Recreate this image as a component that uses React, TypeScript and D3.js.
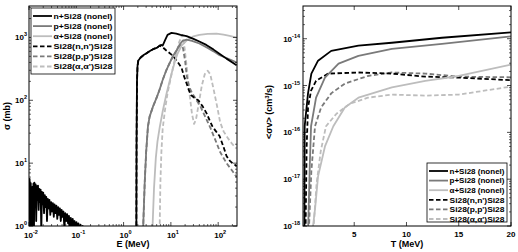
import React from 'react';
import * as d3 from 'd3';

const W = 518, H = 252;

// ---------- left panel data (E in MeV, sigma in mb) ----------
const leftXTicks = [0.01, 0.1, 1, 10, 100];
const leftXTickExp = ['-2', '-1', '0', '1', '2'];
const leftYTicks = [1, 10, 100, 1000];
const leftYTickExp = ['0', '1', '2', '3'];

const nNonel: [number, number][] = [
  [0.0100, 3.2], [0.0103, 5.6], [0.0106, 0.4], [0.0109, 4.8], [0.0112, 1.5], [0.0115, 0.5], [0.0118, 4.2], [0.0121, 2.0],
  [0.0124, 4.7], [0.0127, 0.6], [0.0130, 4.9], [0.0134, 3.1], [0.0138, 4.6], [0.0142, 1.2], [0.0146, 4.3], [0.0150, 2.6],
  [0.0155, 4.4], [0.0160, 1.8], [0.0165, 3.9], [0.0170, 2.4], [0.0176, 3.8], [0.0182, 0.8], [0.0188, 3.5], [0.0194, 2.2],
  [0.0200, 3.4], [0.0208, 1.6], [0.0216, 3.1], [0.0224, 2.0], [0.0232, 2.9], [0.0240, 1.2], [0.0250, 2.7], [0.0260, 1.9],
  [0.0270, 2.6], [0.0282, 1.5], [0.0294, 2.4], [0.0306, 1.7], [0.0320, 2.3], [0.0334, 1.4], [0.0348, 2.2], [0.0364, 1.6],
  [0.0380, 2.1], [0.0396, 1.3], [0.0414, 2.0], [0.0432, 1.5], [0.0450, 1.9], [0.0470, 1.2], [0.0490, 1.8], [0.0512, 1.4],
  [0.0535, 1.7], [0.0560, 0.9], [0.0585, 1.6], [0.0610, 1.2], [0.0640, 1.55], [0.0670, 1.1], [0.0700, 1.45], [0.0730, 0.8],
  [0.0765, 1.35], [0.0800, 1.0], [0.0840, 1.3], [0.0880, 0.9], [0.0920, 1.2], [0.0965, 0.85], [0.1010, 1.15], [0.1060, 0.9],
  [0.1110, 1.1], [0.1170, 0.8], [0.1230, 1.05], [0.1300, 0.85], [0.1370, 1.0], [0.1450, 0.7], [0.1500, 0.5],
  [0.16, 0.1], [1.85, 0.1], [1.88, 20], [1.92, 200], [1.97, 350], [2.05, 430], [2.3, 480], [2.7, 530], [3.06, 560],
  [3.6, 610], [4.2, 650], [5.0, 680], [5.8, 740], [6.3, 760], [6.7, 740], [7.5, 900], [8.5, 1100], [10.3, 1180],
  [13, 1150], [16, 1100], [21.5, 1050], [30, 950], [40, 860], [56, 760], [80, 640], [110, 540], [150, 460], [200, 400], [245, 360],
];
const pNonel: [number, number][] = [
  [2.5, 0.3], [2.6, 1], [2.8, 5], [3.0, 15], [3.27, 38], [3.55, 55], [4.2, 80], [5.0, 110], [5.8, 150], [6.7, 210],
  [8, 300], [9.4, 390], [11, 500], [13.2, 620], [15.5, 780], [17.7, 880], [21.5, 920], [28, 880], [40, 800], [60, 680],
  [80, 600], [107, 520], [150, 470], [200, 430], [245, 400],
];
const aNonel: [number, number][] = [
  [4.0, 0.3], [4.1, 1], [4.4, 4], [4.8, 12], [5.2, 22], [5.8, 37], [6.8, 70], [8.1, 128], [10.3, 265], [12, 400],
  [13.8, 550], [17, 750], [21.5, 890], [30, 1040], [40, 1100], [60, 1140], [92, 1150], [130, 1110], [175, 1060], [245, 990],
];
const nInel: [number, number][] = [
  [1.85, 0.1], [1.88, 20], [1.92, 200], [1.97, 350], [2.05, 430], [2.3, 480], [2.7, 530], [3.06, 560], [3.6, 610],
  [4.2, 650], [5.0, 680], [5.8, 740], [6.7, 700], [8, 620], [10.9, 515], [13.5, 420], [16.8, 330], [19, 240], [21.5, 185],
  [24, 145], [27, 120], [32, 108], [38, 100], [47, 80], [57, 62], [66, 48], [76, 38], [90, 32], [107, 27], [130, 18],
  [150, 13], [175, 11], [200, 10], [245, 9],
];
const pInel: [number, number][] = [
  [2.5, 0.3], [2.6, 1], [2.8, 5], [3.0, 15], [3.27, 38], [3.55, 55], [4.2, 80], [5.0, 110], [5.8, 150], [6.7, 210],
  [8, 300], [9.4, 390], [11, 500], [13.2, 620], [15, 720], [16.5, 760], [18, 680], [20, 420], [21.5, 250], [24, 170],
  [28, 130], [35, 100], [42, 80], [55, 52], [70, 35], [90, 22], [110, 15], [150, 10], [200, 7.5], [245, 6],
];
const aInel: [number, number][] = [
  [5.6, 0.3], [5.8, 1], [6.0, 5], [6.3, 15], [6.7, 35], [7.5, 70], [8.5, 130], [10, 230], [11.5, 380], [13, 560],
  [15, 850], [17.4, 1100], [19, 800], [22, 300], [25, 120], [28, 60], [31, 42], [34, 50], [38, 80], [45, 170],
  [52, 260], [60, 295], [68, 260], [80, 150], [95, 80], [110, 45], [130, 32], [160, 25], [200, 20], [245, 17],
];

// ---------- right panel data (T in MeV, <sigma v> in cm^3/s) ----------
const rightXTicks = [5, 10, 15, 20];
const rightYTicks = [1e-18, 1e-17, 1e-16, 1e-15, 1e-14];
const rightYTickExp = ['-18', '-17', '-16', '-15', '-14'];

const nRate: [number, number][] = [
  [0.2, 1e-19], [0.24, 1e-18], [0.26, 1.35e-16], [0.58, 6.8e-16], [0.9, 1.8e-15], [1.54, 3.4e-15], [2.8, 5.5e-15],
  [5.4, 7.1e-15], [8.6, 8.2e-15], [13.4, 1.05e-14], [20, 1.37e-14],
];
const pRate: [number, number][] = [
  [0.5, 1e-19], [0.6, 1e-18], [0.75, 2e-17], [0.87, 1.35e-16], [1.35, 5.5e-16], [2.2, 1.48e-15], [3.5, 2.95e-15],
  [5.4, 4.3e-15], [8.6, 6.1e-15], [13.4, 7.8e-15], [20, 1.12e-14],
];
const aRate: [number, number][] = [
  [1.0, 1e-19], [1.06, 1e-18], [1.25, 2.3e-18], [1.54, 1.15e-17], [2.2, 5e-17], [3.0, 1.35e-16], [4.1, 3.4e-16],
  [5.4, 5.5e-16], [8.6, 9.1e-16], [11.8, 1.26e-15], [15, 1.6e-15], [20, 2.8e-15],
];
const nInelRate: [number, number][] = [
  [0.3, 1e-19], [0.35, 1e-18], [0.45, 5e-17], [0.58, 3.4e-16], [0.87, 7.8e-16], [1.35, 1.26e-15], [2.5, 1.8e-15],
  [5.4, 1.9e-15], [8.6, 1.8e-15], [11.8, 1.55e-15], [15, 1.48e-15], [20, 1.3e-15],
];
const pInelRate: [number, number][] = [
  [0.6, 1e-19], [0.68, 1e-18], [0.9, 1.5e-17], [1.25, 1.35e-16], [1.83, 3.4e-16], [2.8, 6.8e-16], [4.1, 1.1e-15],
  [6.3, 1.6e-15], [8.6, 1.9e-15], [11.8, 1.8e-15], [15, 1.55e-15], [20, 1.5e-15],
];
const aInelRate: [number, number][] = [
  [1.05, 1e-19], [1.12, 1e-18], [1.4, 8e-18], [1.8, 4e-17], [2.3, 1.35e-16], [3.3, 2.5e-16], [4.6, 4.1e-16],
  [6.3, 5.5e-16], [8.6, 6.4e-16], [11.8, 6.1e-16], [15, 6.4e-16], [20, 9.5e-16],
];

const legendLabels = [
  'n+Si28 (nonel)', 'p+Si28 (nonel)', '\u03b1+Si28 (nonel)',
  "Si28(n,n')Si28", "Si28(p,p')Si28", "Si28(\u03b1,\u03b1')Si28",
];
const colors = ['#000000', '#7a7a7a', '#bdbdbd', '#000000', '#7a7a7a', '#bdbdbd'];
const dashes = ['', '', '', '4.5,2.5', '4.5,2.5', '4.5,2.5'];

const leftSeries = [nNonel, pNonel, aNonel, nInel, pInel, aInel];
const rightSeries = [nRate, pRate, aRate, nInelRate, pInelRate, aInelRate];

const FONT = 'Liberation Sans, Arial, Helvetica, sans-serif';

function minorLogTicks(lo: number, hi: number) {
  const out: number[] = [];
  for (let k = Math.floor(Math.log10(lo)); k <= Math.ceil(Math.log10(hi)); k++) {
    for (let m = 2; m <= 9; m++) {
      const v = m * Math.pow(10, k);
      if (v > lo && v < hi) out.push(v);
    }
  }
  return out;
}

function Pow({ x, y, exp, anchor }: { x: number; y: number; exp: string; anchor: string }) {
  return (
    <text x={x} y={y} textAnchor={anchor} fontSize={8} fontWeight="bold" fontFamily={FONT}>
      10<tspan dy={-4} fontSize={5.5}>{exp}</tspan>
    </text>
  );
}

function Legend({ x, y, w, h, step }: { x: number; y: number; w: number; h: number; step: number }) {
  return (
    <g>
      <rect x={x} y={y} width={w} height={h} fill="#fff" stroke="#000" strokeWidth={0.8} />
      {legendLabels.map((lab, i) => {
        const cy = y + 8 + i * step;
        return (
          <g key={i}>
            <line x1={x + 2} x2={x + 21} y1={cy} y2={cy} stroke={colors[i]} strokeWidth={1.8}
              strokeDasharray={dashes[i] || undefined} />
            <text x={x + 22.5} y={cy + 2.8} fontSize={7.6} fontWeight="bold" fontFamily={FONT}
              textLength={w - 25} lengthAdjust="spacingAndGlyphs">{lab}</text>
          </g>
        );
      })}
    </g>
  );
}

export default function App() {
  // left panel geometry
  const L = { l: 29, r: 237, t: 6, b: 226 };
  const lx = d3.scaleLog().domain([0.01, 250]).range([L.l, L.r]);
  const ly = d3.scaleLog().domain([1, 3162]).range([L.b, L.t]);
  const lline = d3.line<[number, number]>().x(d => lx(d[0])).y(d => ly(d[1]));

  // right panel geometry
  const R = { l: 303, r: 511, t: 6, b: 226 };
  const rx = d3.scaleLinear().domain([0.1, 20]).range([R.l, R.r]);
  const ry = d3.scaleLog().domain([1e-18, 5e-14]).range([R.b, R.t]);
  const rline = d3.line<[number, number]>().x(d => rx(d[0])).y(d => ry(d[1]));

  const lxMinor = minorLogTicks(0.01, 250);
  const lyMinor = minorLogTicks(1, 3162);
  const ryMinor = minorLogTicks(1e-18, 5e-14);

  const order = [5, 4, 3, 2, 1, 0];

  return (
    <svg width={W} height={H} style={{ position: 'absolute', left: 0, top: 0, background: '#fff' }}>
      <defs>
        <clipPath id="clipL"><rect x={L.l} y={L.t} width={L.r - L.l} height={L.b - L.t} /></clipPath>
        <clipPath id="clipR"><rect x={R.l} y={R.t} width={R.r - R.l} height={R.b - R.t} /></clipPath>
      </defs>

      {/* ---------- Left panel ---------- */}
      <g clipPath="url(#clipL)">
        {order.map(i => (
          <path key={i} d={lline(leftSeries[i]) || ''} fill="none" stroke={colors[i]} strokeWidth={1.8}
            strokeDasharray={dashes[i] || undefined} strokeLinejoin="round" />
        ))}
      </g>
      <rect x={L.l} y={L.t} width={L.r - L.l} height={L.b - L.t} fill="none" stroke="#000" strokeWidth={1} />
      {leftXTicks.map(v => (
        <g key={'lxt' + v}>
          <line x1={lx(v)} x2={lx(v)} y1={L.b} y2={L.b - 4} stroke="#000" strokeWidth={0.7} />
          <line x1={lx(v)} x2={lx(v)} y1={L.t} y2={L.t + 4} stroke="#000" strokeWidth={0.7} />
        </g>
      ))}
      {lxMinor.map(v => (
        <g key={'lxm' + v}>
          <line x1={lx(v)} x2={lx(v)} y1={L.b} y2={L.b - 2} stroke="#000" strokeWidth={0.6} />
          <line x1={lx(v)} x2={lx(v)} y1={L.t} y2={L.t + 2} stroke="#000" strokeWidth={0.6} />
        </g>
      ))}
      {leftYTicks.map(v => (
        <g key={'lyt' + v}>
          <line x1={L.l} x2={L.l + 4} y1={ly(v)} y2={ly(v)} stroke="#000" strokeWidth={0.7} />
          <line x1={L.r} x2={L.r - 4} y1={ly(v)} y2={ly(v)} stroke="#000" strokeWidth={0.7} />
        </g>
      ))}
      {lyMinor.map(v => (
        <g key={'lym' + v}>
          <line x1={L.l} x2={L.l + 2} y1={ly(v)} y2={ly(v)} stroke="#000" strokeWidth={0.6} />
          <line x1={L.r} x2={L.r - 2} y1={ly(v)} y2={ly(v)} stroke="#000" strokeWidth={0.6} />
        </g>
      ))}
      {leftXTicks.map((v, i) => (
        <Pow key={'lxl' + v} x={lx(v) + 2} y={L.b + 12} exp={leftXTickExp[i]} anchor="middle" />
      ))}
      {leftYTicks.map((v, i) => (
        <Pow key={'lyl' + v} x={L.l - 2} y={ly(v) + 3} exp={leftYTickExp[i]} anchor="end" />
      ))}
      <text x={(L.l + L.r) / 2} y={247} textAnchor="middle" fontSize={9} fontWeight="bold" fontFamily={FONT}>E (MeV)</text>
      <text transform={`translate(10,${(L.t + L.b) / 2}) rotate(-90)`} textAnchor="middle" fontSize={9}
        fontWeight="bold" fontFamily={FONT}>{'\u03c3 (mb)'}</text>
      <Legend x={31} y={8} w={84} h={66} step={10.1} />

      {/* ---------- Right panel ---------- */}
      <g clipPath="url(#clipR)">
        {order.map(i => (
          <path key={i} d={rline(rightSeries[i]) || ''} fill="none" stroke={colors[i]} strokeWidth={1.8}
            strokeDasharray={dashes[i] || undefined} strokeLinejoin="round" />
        ))}
      </g>
      <rect x={R.l} y={R.t} width={R.r - R.l} height={R.b - R.t} fill="none" stroke="#000" strokeWidth={1} />
      {rightXTicks.map(v => (
        <g key={'rxt' + v}>
          <line x1={rx(v)} x2={rx(v)} y1={R.b} y2={R.b - 4} stroke="#000" strokeWidth={0.7} />
          <line x1={rx(v)} x2={rx(v)} y1={R.t} y2={R.t + 4} stroke="#000" strokeWidth={0.7} />
          <text x={rx(v)} y={R.b + 11} textAnchor="middle" fontSize={8} fontWeight="bold" fontFamily={FONT}>{v}</text>
        </g>
      ))}
      {rightYTicks.map((v, i) => (
        <g key={'ryt' + v}>
          <line x1={R.l} x2={R.l + 4} y1={ry(v)} y2={ry(v)} stroke="#000" strokeWidth={0.7} />
          <line x1={R.r} x2={R.r - 4} y1={ry(v)} y2={ry(v)} stroke="#000" strokeWidth={0.7} />
          <Pow x={R.l - 3} y={ry(v) + 3} exp={rightYTickExp[i]} anchor="end" />
        </g>
      ))}
      {ryMinor.map(v => (
        <g key={'rym' + v}>
          <line x1={R.l} x2={R.l + 2} y1={ry(v)} y2={ry(v)} stroke="#000" strokeWidth={0.6} />
          <line x1={R.r} x2={R.r - 2} y1={ry(v)} y2={ry(v)} stroke="#000" strokeWidth={0.6} />
        </g>
      ))}
      <text x={(R.l + R.r) / 2} y={247} textAnchor="middle" fontSize={9} fontWeight="bold" fontFamily={FONT}>T (MeV)</text>
      <text transform={`translate(272,112) rotate(-90)`} textAnchor="middle" fontSize={9}
        fontWeight="bold" fontFamily={FONT}>{'<\u03c3v> (cm'}<tspan dy={-3} fontSize={6}>3</tspan><tspan dy={3}>/s)</tspan></text>
      <Legend x={427} y={163} w={80} h={59} step={9.6} />
    </svg>
  );
}
